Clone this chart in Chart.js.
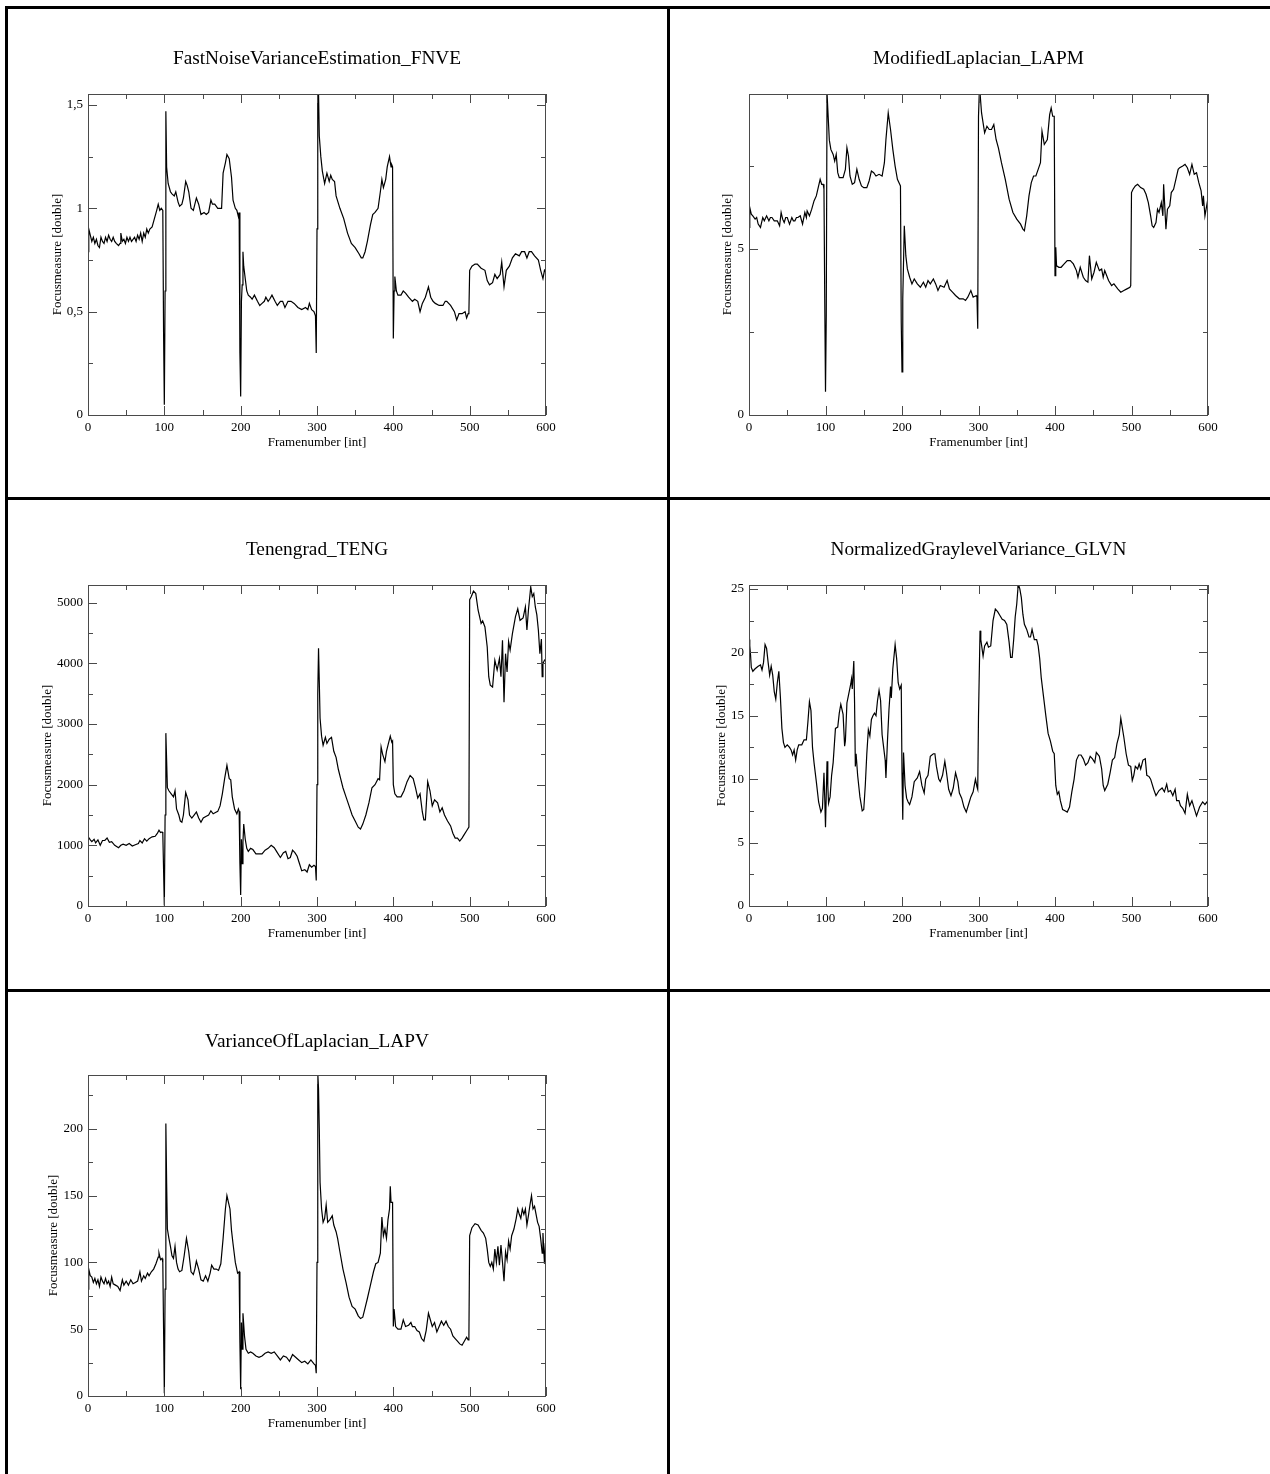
<!DOCTYPE html>
<html>
<head>
<meta charset="utf-8">
<script src="https://cdn.jsdelivr.net/npm/chart.js@4.4.1/dist/chart.umd.min.js"></script>
<style>
  html, body { margin: 0; padding: 0; background: #fff; overflow: hidden; }
  body { width: 1270px; height: 1474px; position: relative; }
  .rule { position: absolute; background: #000; }
  canvas { position: absolute; }
</style>
</head>
<body>
<div class="rule" style="left:5px;top:6px;width:1265px;height:3px"></div>
<div class="rule" style="left:5px;top:497px;width:1265px;height:3px"></div>
<div class="rule" style="left:5px;top:989px;width:1265px;height:3px"></div>
<div class="rule" style="left:5px;top:6px;width:3px;height:1468px"></div>
<div class="rule" style="left:667px;top:6px;width:3px;height:1468px"></div>

<canvas id="c1"></canvas>
<canvas id="c2"></canvas>
<canvas id="c3"></canvas>
<canvas id="c4"></canvas>
<canvas id="c5"></canvas>

<script>
// ---------------- DATA (frame number, focus measure) ----------------
const frameTicks = [0, 100, 200, 300, 400, 500, 600];
const fnveTicks = [0, 0.5, 1, 1.5];
const lapmTicks = [0, 5];
const tengTicks = [0, 1000, 2000, 3000, 4000, 5000];
const glvnTicks = [0, 5, 10, 15, 20, 25];
const lapvTicks = [0, 50, 100, 150, 200];

const fnvePoints = [
 [0,0.79],[1,0.90],[3,0.87],[5,0.84],[7,0.86],[9,0.83],[11,0.85],[13,0.82],[15,0.81],[17,0.86],
 [19,0.84],[21,0.83],[23,0.86],[25,0.84],[27,0.87],[29,0.85],[31,0.84],[33,0.86],[35,0.84],[37,0.83],
 [40,0.82],[42,0.83],[43,0.88],[45,0.84],[47,0.85],[49,0.83],[51,0.86],[53,0.84],[55,0.86],[57,0.84],
 [59,0.85],[61,0.86],[63,0.84],[65,0.87],[67,0.85],[69,0.88],[71,0.84],[73,0.88],[75,0.86],[77,0.90],
 [79,0.88],[81,0.90],[84,0.91],[87,0.95],[90,0.99],[92,1.02],[94,0.99],[96,1.00],[98,0.99],[99,0.40],
 [100,0.05],[101,0.60],[102,1.47],[103,1.20],[105,1.12],[108,1.08],[110,1.07],[113,1.06],[115,1.08],[118,1.03],
 [120,1.01],[123,1.02],[125,1.05],[128,1.13],[130,1.11],[132,1.08],[135,1.00],[138,0.99],[142,1.05],[145,1.02],
 [148,0.97],[152,0.98],[155,0.97],[158,0.98],[161,1.04],[163,1.02],[166,1.02],[170,1.00],[173,1.00],[175,1.00],
 [177,1.17],[180,1.22],[182,1.26],[185,1.24],[188,1.15],[190,1.04],[193,1.00],[195,0.99],[197,0.96],[198,0.98],
 [199,0.30],[200,0.09],[201,0.55],[202,0.63],[203,0.79],[204,0.72],[206,0.66],[208,0.60],[210,0.58],[213,0.57],
 [215,0.56],[218,0.58],[222,0.55],[225,0.53],[228,0.54],[231,0.55],[233,0.57],[236,0.55],[238,0.56],[241,0.58],
 [245,0.55],[248,0.53],[252,0.55],[255,0.55],[258,0.52],[262,0.55],[266,0.55],[270,0.54],[275,0.52],[280,0.51],
 [285,0.52],[288,0.51],[290,0.54],[293,0.51],[296,0.50],[298,0.48],[299,0.30],[300,0.90],[301,1.56],[302,1.56],
 [303,1.35],[305,1.25],[307,1.18],[310,1.12],[313,1.17],[316,1.13],[318,1.16],[320,1.14],[323,1.13],[325,1.06],
 [330,1.00],[335,0.95],[340,0.88],[345,0.83],[350,0.81],[355,0.78],[358,0.76],[360,0.76],[363,0.79],[366,0.84],
 [370,0.92],[373,0.97],[376,0.98],[380,1.00],[383,1.08],[385,1.14],[387,1.10],[390,1.14],[392,1.20],[395,1.25],
 [397,1.20],[398,1.21],[399,1.20],[400,0.37],[401,0.60],[402,0.67],[404,0.60],[406,0.58],[410,0.58],[413,0.60],
 [416,0.59],[420,0.57],[425,0.55],[428,0.56],[432,0.55],[435,0.50],[438,0.54],[442,0.57],[446,0.62],[449,0.57],
 [452,0.55],[455,0.54],[460,0.53],[465,0.53],[468,0.55],[470,0.55],[475,0.53],[480,0.50],[483,0.46],[484,0.47],
 [486,0.49],[490,0.49],[494,0.50],[496,0.47],[498,0.49],[499,0.50],[500,0.70],[503,0.72],[507,0.73],[510,0.73],
 [515,0.71],[520,0.70],[523,0.65],[526,0.63],[530,0.64],[533,0.68],[536,0.66],[540,0.68],[542,0.74],[545,0.62],
 [548,0.70],[552,0.72],[556,0.76],[560,0.78],[565,0.77],[568,0.79],[572,0.79],[575,0.76],[578,0.79],[581,0.79],
 [585,0.77],[590,0.75],[593,0.70],[596,0.66],[598,0.70],[600,0.69]
];

const lapmPoints = [
 [0,5.65],[1,6.25],[3,6.05],[5,6.0],[8,5.9],[10,5.95],[12,5.75],[15,5.65],[18,5.95],[20,5.85],
 [23,6.0],[26,5.85],[28,5.95],[30,5.95],[33,5.85],[37,5.85],[40,5.7],[42,6.1],[44,5.9],[46,5.8],[48,5.95],
 [50,5.95],[53,5.75],[56,5.95],[58,5.85],[60,5.85],[62,5.95],[64,5.95],[67,6.0],[70,5.75],[73,6.1],[75,5.95],[76,6.15],
 [79,6.0],[82,6.2],[85,6.45],[88,6.6],[91,6.9],[93,7.1],[95,6.95],[97,6.95],[98,6.8],[99,3.5],
 [100,0.7],[101,3.0],[102,9.7],[103,9.7],[105,8.28],[107,8.0],[110,7.85],[112,7.65],[114,7.85],[116,7.3],
 [118,7.15],[120,7.15],[123,7.15],[126,7.4],[128,8.05],[130,7.8],[132,7.2],[135,6.95],[138,7.0],[141,7.4],
 [144,7.1],[147,6.9],[150,6.85],[154,6.85],[157,7.05],[160,7.35],[163,7.3],[166,7.2],[170,7.25],[174,7.2],
 [177,7.6],[179,8.3],[182,9.1],[185,8.6],[188,8.0],[191,7.5],[194,7.1],[197,6.95],[198,6.9],[199,2.8],
 [200,1.3],[201,3.5],[203,5.7],[205,4.8],[207,4.4],[210,4.15],[213,3.95],[216,4.1],[220,3.95],[224,3.85],
 [228,4.0],[231,3.85],[234,4.05],[237,3.95],[241,4.1],[244,3.95],[247,3.75],[250,3.9],[255,3.85],[259,4.05],
 [262,3.8],[266,3.7],[270,3.6],[275,3.5],[280,3.5],[283,3.45],[286,3.55],[290,3.75],[293,3.55],[297,3.6],
 [298,3.55],[299,2.6],[300,9.0],[301,9.7],[302,9.7],[304,9.1],[306,8.8],[308,8.5],[311,8.7],[314,8.6],
 [317,8.6],[320,8.75],[323,8.3],[326,8.05],[330,7.6],[335,7.1],[340,6.5],[345,6.1],[350,5.9],[355,5.75],
 [358,5.6],[360,5.55],[363,6.0],[366,6.6],[369,7.0],[372,7.2],[375,7.2],[378,7.4],[381,7.6],[383,8.55],
 [386,8.15],[390,8.3],[393,9.05],[395,9.25],[397,9.0],[398,9.0],[399,9.0],[400,4.2],[401,5.05],[402,4.5],
 [405,4.45],[408,4.45],[412,4.55],[416,4.65],[420,4.65],[424,4.55],[428,4.35],[430,4.15],[433,4.45],[437,4.15],
 [440,4.05],[443,4.0],[445,4.8],[448,4.1],[451,4.3],[454,4.6],[458,4.35],[461,4.4],[463,4.15],[465,4.35],
 [470,4.05],[474,3.9],[477,3.95],[482,3.8],[486,3.7],[490,3.75],[494,3.8],[498,3.85],[499,3.9],[500,6.7],
 [502,6.8],[505,6.9],[508,6.95],[512,6.85],[516,6.8],[519,6.65],[522,6.4],[525,6.0],[527,5.7],[529,5.65],
 [532,5.8],[534,6.2],[536,6.1],[539,6.4],[541,6.0],[542,6.95],[545,5.6],[547,6.2],[550,6.3],[552,6.7],
 [555,6.8],[558,7.1],[561,7.4],[563,7.45],[567,7.5],[570,7.55],[573,7.45],[576,7.25],[579,7.55],[582,7.25],
 [585,7.3],[588,7.0],[591,6.75],[593,6.3],[594,6.6],[596,6.0],[599,6.4],[600,6.35]
];

const tengPoints = [
 [0,1135],[1,1130],[3,1090],[5,1060],[8,1100],[10,1040],[13,1090],[16,1000],[19,1080],[22,1080],
 [25,1120],[28,1050],[31,1060],[35,1000],[40,960],[43,1000],[46,1020],[50,1000],[54,1030],[58,990],
 [62,1010],[66,1030],[68,1080],[71,1040],[74,1110],[77,1070],[80,1110],[84,1140],[88,1150],[91,1200],
 [93,1250],[95,1210],[97,1220],[98,1200],[99,600],[100,10],[101,1500],[102,2850],[103,2400],[104,1950],
 [106,1900],[109,1850],[112,1800],[114,1900],[116,1600],[119,1500],[121,1400],[123,1380],[125,1500],[128,1870],
 [131,1750],[133,1500],[136,1450],[139,1500],[142,1550],[145,1450],[148,1380],[151,1450],[155,1480],[158,1500],
 [161,1570],[164,1520],[167,1540],[170,1560],[173,1650],[176,1850],[179,2100],[182,2320],[185,2100],[187,2080],
 [189,1800],[192,1600],[195,1520],[197,1600],[198,1560],[199,700],[200,180],[201,1100],[202,700],[203,1050],
 [204,1350],[206,1100],[208,950],[210,900],[213,950],[216,930],[220,860],[224,860],[228,860],[232,920],
 [236,950],[240,1000],[244,960],[248,880],[252,800],[256,880],[259,900],[262,780],[265,800],[268,920],
 [271,880],[274,820],[277,700],[280,580],[284,600],[287,560],[290,680],[293,640],[296,670],[298,650],
 [299,420],[300,2000],[301,3500],[302,4250],[303,3700],[304,3100],[306,2800],[308,2650],[311,2780],[313,2680],
 [316,2750],[319,2780],[322,2550],[325,2450],[328,2250],[331,2100],[334,1950],[338,1800],[342,1650],[346,1500],
 [350,1400],[354,1300],[357,1270],[360,1350],[364,1500],[368,1700],[372,1950],[376,2000],[380,2100],[382,2080],
 [384,2620],[386,2500],[389,2380],[391,2550],[394,2700],[396,2800],[398,2700],[399,2720],[400,2000],[402,1850],
 [405,1800],[410,1800],[414,1900],[418,2050],[422,2150],[426,2100],[429,1950],[432,1780],[435,1850],[438,1550],
 [440,1420],[442,1420],[445,2050],[448,1900],[451,1650],[454,1750],[458,1700],[461,1550],[464,1620],[467,1500],
 [471,1400],[475,1320],[478,1200],[481,1120],[484,1120],[487,1070],[490,1120],[493,1180],[496,1240],[499,1300],
 [500,5050],[502,5100],[505,5190],[508,5150],[511,4880],[515,4660],[517,4700],[520,4600],[523,4270],[525,3780],
 [527,3640],[530,3610],[533,4050],[536,3890],[539,4080],[541,3780],[543,4380],[545,3360],[547,4160],[549,3860],
 [551,4360],[553,4220],[556,4490],[560,4770],[563,4900],[566,4710],[570,4750],[573,4930],[575,4550],[577,4880],
 [580,5260],[582,5100],[584,5150],[586,4930],[588,4800],[590,4550],[592,4160],[594,4400],[595,3780],[596,4000],
 [598,4050],[600,4080]
];

const glvnPoints = [
 [0,21.0],[1,20.5],[2,19.8],[3,18.8],[5,18.5],[8,18.7],[12,18.9],[15,19.0],[17,18.6],[19,19.2],
 [21,20.6],[23,20.3],[25,19.2],[27,18.2],[29,18.9],[31,18.2],[33,16.9],[35,16.3],[37,17.6],[39,18.5],
 [41,16.5],[43,14.0],[45,12.9],[47,12.5],[50,12.7],[53,12.5],[55,12.3],[57,11.9],[59,12.3],[61,11.5],
 [63,12.3],[65,12.7],[69,12.7],[72,13.1],[75,13.1],[77,14.5],[79,16.1],[81,15.4],[83,12.5],[85,11.3],
 [88,9.8],[91,8.2],[94,7.4],[96,7.7],[98,10.5],[99,8.5],[100,6.2],[101,8.8],[102,11.4],[103,9.5],
 [104,8.1],[106,8.6],[108,10.3],[110,11.3],[113,14.0],[116,14.1],[118,15.2],[120,15.9],[123,15.1],[125,12.6],
 [126,13.0],[128,16.0],[130,16.6],[133,17.5],[134,17.9],[135,17.1],[137,19.3],[138,16.0],[139,11.0],[140,12.0],
 [142,10.3],[145,8.6],[148,7.5],[150,7.6],[152,9.5],[154,12.0],[156,13.9],[158,13.4],[160,14.7],[162,15.0],
 [164,15.2],[166,15.0],[168,16.2],[170,17.0],[172,16.2],[174,13.5],[176,12.5],[178,11.5],[179,10.1],[181,13.0],
 [183,15.5],[185,17.3],[186,16.4],[188,18.7],[191,20.6],[193,19.5],[195,17.6],[197,17.1],[199,17.4],[200,10.5],
 [201,6.8],[202,12.1],[204,9.5],[206,8.5],[208,8.2],[210,8.0],[213,8.6],[216,9.8],[220,10.1],[223,10.6],
 [226,9.5],[229,8.9],[231,10.0],[234,10.3],[237,11.8],[241,12.0],[243,12.0],[245,11.0],[248,10.0],[250,9.8],
 [253,10.3],[256,11.4],[258,10.6],[261,9.2],[264,8.7],[267,9.3],[270,10.5],[273,9.8],[275,8.9],[278,8.5],
 [281,7.8],[284,7.4],[287,8.0],[290,8.6],[293,9.0],[296,10.0],[298,9.4],[299,9.2],[300,15.0],[302,21.7],
 [303,21.0],[306,19.7],[308,20.5],[311,20.8],[313,20.4],[316,20.5],[319,22.5],[322,23.4],[325,23.2],[328,22.9],
 [331,22.6],[334,22.5],[337,22.2],[340,20.8],[342,19.6],[344,19.6],[346,21.0],[348,22.8],[350,23.8],[352,25.4],
 [354,25.0],[356,24.3],[358,23.0],[360,22.2],[363,21.8],[366,21.2],[368,21.2],[370,21.8],[373,21.0],[376,21.0],
 [378,20.5],[380,19.5],[382,18.0],[385,16.5],[388,15.0],[391,13.6],[394,13.0],[397,12.2],[399,12.0],[401,9.5],
 [403,8.8],[405,9.0],[407,8.3],[410,7.6],[413,7.5],[416,7.4],[419,7.8],[422,9.0],[425,10.0],[428,11.5],
 [431,11.9],[434,11.9],[437,11.6],[440,11.1],[443,11.3],[446,11.8],[449,11.6],[452,11.3],[454,12.1],[458,11.8],
 [461,10.8],[463,9.5],[465,9.1],[469,9.6],[472,10.5],[475,11.5],[478,11.7],[481,12.8],[484,13.5],[486,14.8],
 [490,13.3],[493,12.0],[496,11.1],[499,11.0],[501,9.9],[503,10.3],[505,11.0],[508,10.8],[510,11.2],[512,10.8],
 [515,11.5],[518,11.6],[520,10.3],[523,10.2],[525,10.0],[529,9.2],[532,8.7],[536,9.1],[540,9.3],[543,9.0],
 [546,9.6],[548,9.0],[551,9.1],[554,8.7],[557,9.2],[559,8.3],[562,8.3],[564,7.9],[567,7.7],[570,7.3],
 [573,8.8],[576,7.9],[579,8.3],[582,7.7],[585,7.1],[589,7.8],[593,8.2],[596,8.0],[600,8.3]
];

const lapvPoints = [
 [0,80],[1,95],[3,90],[5,89],[7,85],[9,88],[11,84],[13,87],[15,82],[17,89],
 [19,86],[21,84],[23,88],[25,84],[27,86],[29,82],[31,89],[33,84],[36,83],[39,82],
 [42,79],[45,87],[47,83],[50,86],[53,83],[56,87],[59,84],[62,85],[65,86],[68,93],
 [70,86],[73,90],[75,88],[78,92],[80,90],[83,93],[86,95],[89,99],[92,104],[93,107],
 [95,102],[97,103],[98,100],[99,50],[100,2],[101,80],[102,204],[103,160],[104,125],[106,118],
 [108,112],[110,105],[112,103],[114,112],[116,100],[118,95],[120,93],[123,94],[126,105],[129,118],
 [132,108],[135,93],[138,91],[140,95],[142,101],[145,95],[148,87],[151,86],[154,90],[157,86],
 [160,92],[162,98],[165,95],[168,95],[171,94],[174,99],[177,118],[180,140],[182,150],[184,145],
 [186,140],[188,124],[190,114],[193,100],[196,92],[198,93],[199,40],[200,5],[201,55],[202,35],
 [203,62],[205,45],[207,35],[210,32],[213,33],[216,32],[220,30],[224,29],[228,30],[232,32],
 [236,33],[240,32],[244,33],[248,30],[252,27],[256,30],[260,29],[264,26],[268,31],[272,29],
 [276,27],[280,25],[284,26],[288,24],[292,27],[296,24],[298,23],[299,17],[300,100],[301,242],
 [302,230],[303,200],[304,160],[306,140],[308,130],[310,133],[312,143],[314,130],[317,132],[320,135],
 [322,128],[325,123],[327,118],[330,108],[334,95],[338,85],[342,74],[346,67],[350,65],[354,60],
 [357,58],[360,59],[363,66],[366,73],[370,83],[374,93],[377,99],[380,100],[383,107],[385,134],
 [387,120],[389,125],[391,118],[393,132],[395,140],[396,157],[397,145],[399,145],[400,52],[401,65],
 [403,52],[406,50],[410,50],[413,57],[416,52],[420,53],[423,55],[425,52],[428,52],[431,49],
 [434,48],[437,43],[440,41],[443,49],[446,62],[448,58],[451,52],[454,55],[457,48],[460,52],
 [463,56],[466,53],[469,56],[472,52],[475,50],[478,45],[481,43],[484,41],[487,39],[490,38],
 [493,41],[496,44],[498,42],[499,44],[500,120],[503,126],[507,129],[511,128],[515,124],[518,122],
 [521,118],[523,110],[525,100],[527,97],[529,100],[531,95],[533,110],[535,100],[537,112],[539,98],
 [541,113],[543,100],[545,86],[547,108],[549,102],[551,116],[553,110],[555,120],[558,125],[561,133],
 [563,140],[565,136],[567,133],[569,140],[571,136],[573,140],[575,128],[577,135],[579,143],[581,150],
 [583,140],[585,142],[587,136],[589,130],[591,127],[593,118],[595,107],[596,122],[597,110],[598,99],
 [599,112],[600,110]
];

// ---------------- LAYOUT / STYLE ----------------
const SERIF = "'Liberation Serif', 'DejaVu Serif', 'Times New Roman', serif";
const FRAME = '#4a4a4a';

const panels = [
  { id:'c1', title:'FastNoiseVarianceEstimation_FNVE', pts:fnvePoints, yTicks:fnveTicks, yMax:1.553, yMinor:0.25,
    L:88, R:546, T:94, B:415, cLeft:8, cTop:12, titleY:59, yTitleGap:30 },
  { id:'c2', title:'ModifiedLaplacian_LAPM', pts:lapmPoints, yTicks:lapmTicks, yMax:9.67, yMinor:2.5,
    L:749, R:1208, T:94, B:415, cLeft:700, cTop:12, titleY:59, yTitleGap:21 },
  { id:'c3', title:'Tenengrad_TENG', pts:tengPoints, yTicks:tengTicks, yMax:5292, yMinor:500,
    L:88, R:546, T:585, B:906, cLeft:8, cTop:503, titleY:550, yTitleGap:40 },
  { id:'c4', title:'NormalizedGraylevelVariance_GLVN', pts:glvnPoints, yTicks:glvnTicks, yMax:25.3, yMinor:2.5,
    L:749, R:1208, T:585, B:906, cLeft:700, cTop:503, titleY:550, yTitleGap:27 },
  { id:'c5', title:'VarianceOfLaplacian_LAPV', pts:lapvPoints, yTicks:lapvTicks, yMax:240.3, yMinor:25,
    L:88, R:546, T:1075, B:1396, cLeft:8, cTop:995, titleY:1042, yTitleGap:34 }
];

const innerTicks = {
  id: 'innerTicks',
  afterDatasetsDraw(chart, args, opts) {
    const { ctx, chartArea: { left, right, top, bottom }, scales: { x, y } } = chart;
    ctx.save();
    ctx.strokeStyle = FRAME;
    ctx.lineWidth = 1;
    const seg = (x1, y1, x2, y2) => { ctx.beginPath(); ctx.moveTo(x1, y1); ctx.lineTo(x2, y2); ctx.stroke(); };
    const nx = Math.round((x.max - x.min) / opts.xMinor);
    for (let i = 0; i <= nx; i++) {
      const px = Math.round(x.getPixelForValue(x.min + i * opts.xMinor)) + 0.5;
      const len = i % 2 === 0 ? 9 : 5;
      seg(px, bottom, px, bottom - len);
      seg(px, top, px, top + len);
    }
    const ny = Math.floor(y.max / opts.yMinor + 1e-9);
    for (let i = 0; i <= ny; i++) {
      const py = Math.round(y.getPixelForValue(i * opts.yMinor)) + 0.5;
      const len = i % 2 === 0 ? 9 : 5;
      seg(left, py, left + len, py);
      seg(right, py, right - len, py);
    }
    ctx.strokeRect(left + 0.5, top + 0.5, right - left - 1, bottom - top);
    ctx.restore();
  }
};

const fmt = v => String(+v.toFixed(3)).replace('.', ',');

panels.forEach(p => {
  const cv = document.getElementById(p.id);
  const center = (p.L + p.R) / 2;
  const width = Math.round(2 * (center - p.cLeft));
  const height = p.B + 40 - p.cTop;
  cv.width = width; cv.height = height;
  cv.style.left = p.cLeft + 'px'; cv.style.top = p.cTop + 'px';
  cv.style.width = width + 'px'; cv.style.height = height + 'px';
  const yAxisW = p.L - p.cLeft;
  const padRight = p.cLeft + width - p.R;
  const tFont = 19.3, tLH = tFont * 1.2;
  const tPadTop = p.titleY - p.cTop - tLH / 2;
  const tPadBottom = (p.T - p.cTop) - tPadTop - tLH;
  const aLH = 13 * 1.2;

  new Chart(cv, {
    type: 'line',
    data: {
      datasets: [{
        data: p.pts.map(d => ({ x: d[0], y: d[1] })),
        borderColor: '#000',
        borderWidth: 1.2,
        pointRadius: 0,
        tension: 0,
        fill: false
      }]
    },
    options: {
      responsive: false,
      animation: false,
      devicePixelRatio: 1,
      events: [],
      layout: { padding: { left: 0, right: padRight, top: 0, bottom: 0 } },
      plugins: {
        legend: { display: false },
        tooltip: { enabled: false },
        title: {
          display: true, text: p.title, color: '#000', fullSize: false,
          font: { family: SERIF, size: tFont, weight: 'normal', lineHeight: 1.2 },
          padding: { top: tPadTop, bottom: tPadBottom }
        },
        innerTicks: { xMinor: 50, yMinor: p.yMinor }
      },
      scales: {
        x: {
          type: 'linear', min: 0, max: 600,
          grid: { display: false, drawTicks: false },
          border: { display: false },
          afterBuildTicks: s => { s.ticks = frameTicks.map(v => ({ value: v })); },
          ticks: { color: '#000', padding: 5, maxRotation: 0, autoSkip: false,
                   font: { family: SERIF, size: 13 } },
          title: { display: true, text: 'Framenumber [int]', color: '#000',
                   font: { family: SERIF, size: 13, lineHeight: 1.2 },
                   padding: { top: 0, bottom: 40 - 28 - aLH / 2 } },
          afterFit: s => { s.height = 40; }
        },
        y: {
          type: 'linear', min: 0, max: p.yMax,
          grid: { display: false, drawTicks: false },
          border: { display: false },
          afterBuildTicks: s => { s.ticks = p.yTicks.map(v => ({ value: v })); },
          ticks: { color: '#000', padding: 5, autoSkip: false,
                   font: { family: SERIF, size: 13 }, callback: v => fmt(v) },
          title: { display: true, text: 'Focusmeasure [double]', color: '#000',
                   font: { family: SERIF, size: 13, lineHeight: 1.2 },
                   padding: { top: yAxisW - p.yTitleGap - aLH / 2, bottom: 0 } },
          afterFit: s => { s.width = yAxisW; }
        }
      }
    },
    plugins: [innerTicks]
  });
});
</script>
</body>
</html>
